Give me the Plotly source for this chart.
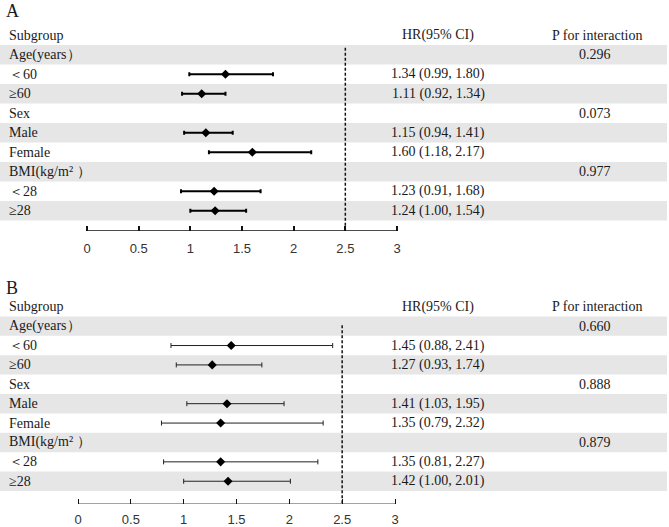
import plotly.graph_objects as go

# ---------------- data ----------------
subgroups = ["Age(years）", "＜60", "≥60", "Sex", "Male", "Female", "BMI(kg/m² ）", "＜28", "≥28"]
shaded = [True, False, True, False, True, False, True, False, True]

A_hr = [None, 1.34, 1.11, None, 1.15, 1.60, None, 1.23, 1.24]
A_lo = [None, 0.99, 0.92, None, 0.94, 1.18, None, 0.91, 1.00]
A_hi = [None, 1.80, 1.34, None, 1.41, 2.17, None, 1.68, 1.54]
A_p = ["0.296", "", "", "0.073", "", "", "0.977", "", ""]

B_hr = [None, 1.45, 1.27, None, 1.41, 1.35, None, 1.35, 1.42]
B_lo = [None, 0.88, 0.93, None, 1.03, 0.79, None, 0.81, 1.00]
B_hi = [None, 2.41, 1.74, None, 1.95, 2.32, None, 2.27, 2.01]
B_p = ["0.660", "", "", "0.888", "", "", "0.879", "", ""]

tick_vals = [0, 0.5, 1, 1.5, 2, 2.5, 3]
tick_text = ["0", "0.5", "1", "1.5", "2", "2.5", "3"]
ref_line = 2.5

W, H = 669, 527
SERIF = "Liberation Serif, Times New Roman, serif"
SANS = "Liberation Sans, Arial, sans-serif"
TXT = "#1a1a1a"
BAND = "#e6e6e6"

fig = go.Figure()
annotations = []
shapes = []


def panel(letter, hr, lo, hi, pv, xa, ya, geo):
    xs = "x" if xa == "xaxis" else "x2"
    ys = "y" if ya == "yaxis" else "y2"
    rows = list(range(1, len(subgroups) + 1))
    xr = geo["xrange"]
    for r, sh in zip(rows, shaded):
        if sh:
            shapes.append(dict(type="rect", xref=xs, yref=ys, x0=xr[0], x1=xr[0] + (xr[1] - xr[0]) * 667 / 669,
                               y0=r - 0.5, y1=r + 0.5, fillcolor=BAND, line=dict(width=0), layer="below"))
    shapes.append(dict(type="line", xref=xs, yref=ys, x0=ref_line, x1=ref_line,
                       y0=geo["dash_top"], y1=geo["yrange"][0],
                       line=dict(color="#111", width=1.5, dash="3px,2px")))
    shapes.append(dict(type="line", xref=xs, yref=ys, x0=tick_vals[0], x1=tick_vals[-1],
                       y0=geo["yrange"][0], y1=geo["yrange"][0],
                       line=dict(color="#111", width=geo["axw"])))
    px, py, ep, em = [], [], [], []
    for r, h, l, u in zip(rows, hr, lo, hi):
        if h is None:
            continue
        px.append(h); py.append(r); ep.append(u - h); em.append(h - l)
    fig.add_trace(go.Scatter(
        x=px, y=py, mode="markers", xaxis=xs, yaxis=ys, showlegend=False,
        marker=dict(symbol="diamond", size=7, color="#000"),
        error_x=dict(type="data", array=ep, arrayminus=em, symmetric=False,
                     thickness=geo["eth"], width=geo["ecap"], color=geo["ecol"]),
    ))

    def ann(x, y, text, anchor="left", size=14, font=SERIF):
        annotations.append(dict(xref="paper", yref=ys, x=x, y=y, text=text, showarrow=False,
                                xanchor=anchor, yanchor="middle",
                                font=dict(family=font, size=size, color=TXT)))
    ann(4 / W, geo["letter_y"], letter, size=18)
    ann(7 / W, 0, "Subgroup")
    ann(438 / W, 0, "HR(95% CI)", anchor="center")
    ann(597 / W, 0, "P for interaction", anchor="center")
    for r, name, h, l, u, p in zip(rows, subgroups, hr, lo, hi, pv):
        ann(7 / W, r, name)
        if h is not None:
            ann(438 / W, r, f"{h:.2f} ({l:.2f}, {u:.2f})", anchor="center")
        if p:
            ann(595 / W, r, p, anchor="center")

    fig.update_layout(**{
        xa: dict(domain=[0, 1], range=list(xr), tickvals=tick_vals, ticktext=tick_text,
                 ticks="inside", ticklen=5, tickwidth=geo["axw"], tickcolor="#111",
                 showline=False, showgrid=False, zeroline=False, ticklabelstandoff=geo["stand"],
                 tickfont=dict(family=SANS, size=13, color="#333"),
                 anchor=ys, fixedrange=True),
        ya: dict(domain=geo["ydom"], range=list(geo["yrange"]), showgrid=False, zeroline=False,
                 showticklabels=False, ticks="", showline=False, anchor=xs, fixedrange=True),
    })


a_x0, a_x3 = 87, 397
a_scale = (a_x3 - a_x0) / 3
a_row0, a_rowh, a_axis = 35.5, 19.6, 232
geoA = dict(
    xrange=(-a_x0 / a_scale, (W - a_x0) / a_scale),
    yrange=((a_axis - a_row0) / a_rowh, (0 - a_row0) / a_rowh),
    ydom=[1 - a_axis / H, 1],
    dash_top=(48 - a_row0) / a_rowh,
    letter_y=(11 - a_row0) / a_rowh,
    axw=1.5, eth=2, ecap=2, ecol="#000", stand=8,
)
b_x0, b_x3 = 78, 395
b_scale = (b_x3 - b_x0) / 3
b_row0, b_rowh, b_axis, b_top = 308.5, 19.5, 507, 268
geoB = dict(
    xrange=(-b_x0 / b_scale, (W - b_x0) / b_scale),
    yrange=((b_axis - b_row0) / b_rowh, (b_top - b_row0) / b_rowh),
    ydom=[1 - b_axis / H, 1 - b_top / H],
    dash_top=(327 - b_row0) / b_rowh,
    letter_y=(290 - b_row0) / b_rowh,
    axw=1, eth=1, ecap=2.5, ecol="#222", stand=6,
)

panel("A", A_hr, A_lo, A_hi, A_p, "xaxis", "yaxis", geoA)
panel("B", B_hr, B_lo, B_hi, B_p, "xaxis2", "yaxis2", geoB)

fig.update_layout(
    width=W, height=H, margin=dict(l=0, r=0, t=0, b=0),
    paper_bgcolor="white", plot_bgcolor="rgba(0,0,0,0)",
    showlegend=False, annotations=annotations, shapes=shapes,
)

fig.write_html("out.html")
